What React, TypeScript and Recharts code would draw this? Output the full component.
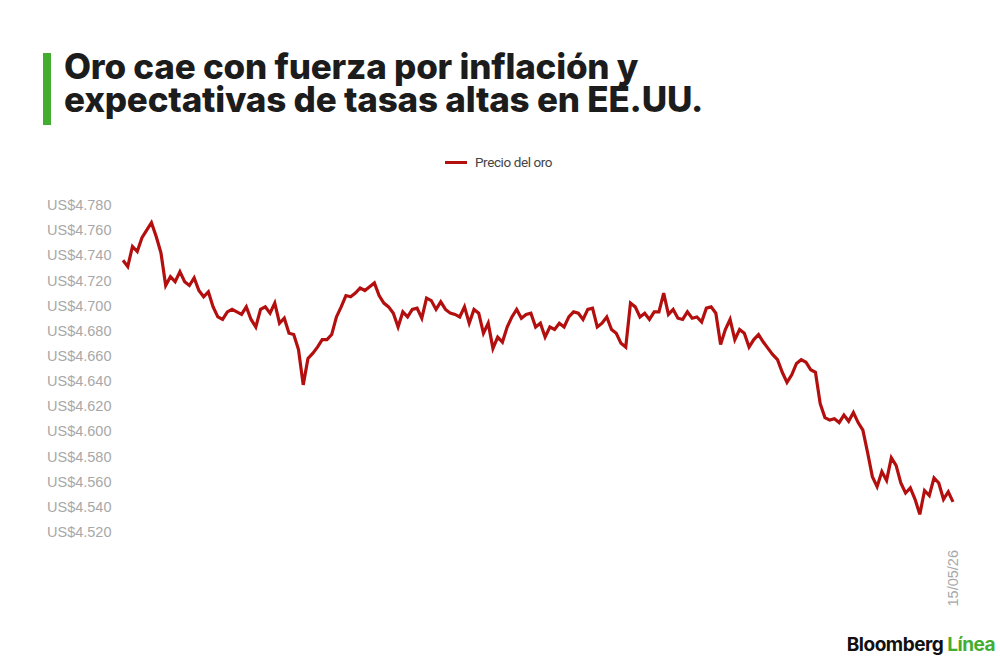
import React from 'react';
import { LineChart, Line, XAxis, YAxis } from 'recharts';

// Gold price, sampled left to right along the trace (US$ per ounce)
const prices = [
  4736, 4731, 4747, 4743, 4754, 4760, 4766, 4755, 4742, 4716, 4723, 4719, 4727, 4719, 4716,
  4722, 4712, 4707, 4711, 4699, 4691, 4689, 4695, 4697, 4695, 4693, 4699, 4689, 4683, 4697,
  4699, 4694, 4702, 4686, 4690, 4678, 4677, 4665, 4637, 4658, 4662, 4667, 4673, 4673, 4677,
  4691, 4699, 4708, 4707, 4710, 4714, 4712, 4715, 4718, 4708, 4702, 4699, 4694, 4683, 4695,
  4691, 4697, 4698, 4690, 4706, 4704, 4697, 4703, 4697, 4694, 4693, 4691, 4699, 4686, 4697,
  4694, 4678, 4686, 4666, 4675, 4671, 4683, 4691, 4697, 4690,
  4693, 4694, 4683, 4686, 4675, 4683, 4681, 4686, 4683, 4691, 4695, 4694, 4689, 4697, 4698,
  4683, 4686, 4691, 4681, 4678, 4670, 4667, 4702, 4699, 4691, 4694, 4689, 4695, 4695, 4710,
  4693, 4697, 4690, 4689, 4695, 4690, 4691, 4687, 4698, 4699, 4694,
  4669, 4681, 4689, 4673, 4681, 4678, 4667, 4673, 4677, 4671, 4666, 4661, 4657, 4647, 4639,
  4645, 4654, 4657, 4655, 4649, 4647, 4622, 4611, 4609, 4610, 4607, 4613, 4608, 4615, 4607,
  4601, 4583, 4564, 4556, 4568, 4561, 4579, 4573, 4559, 4551, 4555, 4546, 4534, 4553, 4549,
  4563, 4559, 4546, 4552, 4544,
];

const lastDate = '15/05/26';
const yTicks = [4520, 4540, 4560, 4580, 4600, 4620, 4640, 4660, 4680, 4700, 4720, 4740, 4760, 4780];

const data = prices.map((p, i) => ({
  idx: i,
  label: i === prices.length - 1 ? lastDate : '',
  price: p,
}));

const LINE_COLOR = '#b30f0f';
const GREEN = '#42ad2f';
const TICK_FONT = '"Liberation Sans", Arial, sans-serif';
const TITLE_FONT = 'Inter, Roboto, sans-serif';

const formatUsd = (v: number) => {
  const s = String(v);
  return 'US$' + s.slice(0, 1) + '.' + s.slice(1);
};

const YTick = ({ y, payload }: any) => (
  <text x={47} y={y} dy="0.35em" textAnchor="start" fill="#a8a8a8" fontSize={14.5} fontFamily={TICK_FONT}>
    {formatUsd(payload.value)}
  </text>
);

const XTick = ({ x, y, payload }: any) => {
  if (!payload.value) return null;
  return (
    <g transform={`translate(${x},${y + 10}) rotate(-90)`}>
      <text x={0} y={0} dy="0.35em" textAnchor="end" fill="#a8a8a8" fontSize={14.5} fontFamily={TICK_FONT}>
        {payload.value}
      </text>
    </g>
  );
};

export default function App() {
  return (
    <div style={{ position: 'absolute', left: 0, top: 0, width: 1000, height: 660, background: '#fff', overflow: 'hidden' }}>
      <div style={{ position: 'absolute', left: 43, top: 53, width: 8, height: 72, background: GREEN }} />
      <div
        style={{
          position: 'absolute',
          left: 64,
          top: 50,
          fontFamily: TITLE_FONT,
          fontWeight: 800,
          fontSize: 35,
          lineHeight: '33px',
          letterSpacing: -0.2,
          color: '#1c1c1c',
        }}
      >
        <div>Oro cae con fuerza por inflación y</div>
        <div>expectativas de tasas altas en EE.UU.</div>
      </div>

      {/* legend */}
      <div
        style={{
          position: 'absolute',
          left: 445,
          top: 154,
          display: 'flex',
          alignItems: 'center',
          fontFamily: 'Roboto, sans-serif',
          fontSize: 13.5,
          color: '#444',
        }}
      >
        <span style={{ display: 'inline-block', width: 22, height: 3, background: LINE_COLOR, marginRight: 8 }} />
        <span style={{ letterSpacing: -0.4 }}>Precio del oro</span>
      </div>

      <div style={{ position: 'absolute', left: 0, top: 0 }}>
        <LineChart width={1000} height={660} data={data} margin={{ top: 205, right: 47, bottom: 48, left: 47 }}>
          <XAxis
            dataKey="label"
            interval={0}
            axisLine={false}
            tickLine={false}
            height={80}
            tick={<XTick />}
          />
          <YAxis
            domain={[4520, 4780]}
            ticks={yTicks}
            interval={0}
            axisLine={false}
            tickLine={false}
            width={76}
            tick={<YTick />}
          />
          <Line
            type="linear"
            dataKey="price"
            stroke={LINE_COLOR}
            strokeWidth={3.2}
            dot={false}
            isAnimationActive={false}
          />
        </LineChart>
      </div>

      <div
        style={{
          position: 'absolute',
          right: 5,
          top: 633,
          fontFamily: 'Inter, Roboto, sans-serif',
          fontWeight: 700,
          fontSize: 19,
          letterSpacing: -0.5,
        }}
      >
        <span style={{ color: '#111' }}>Bloomberg</span>{' '}
        <span style={{ color: GREEN }}>Línea</span>
      </div>
    </div>
  );
}
